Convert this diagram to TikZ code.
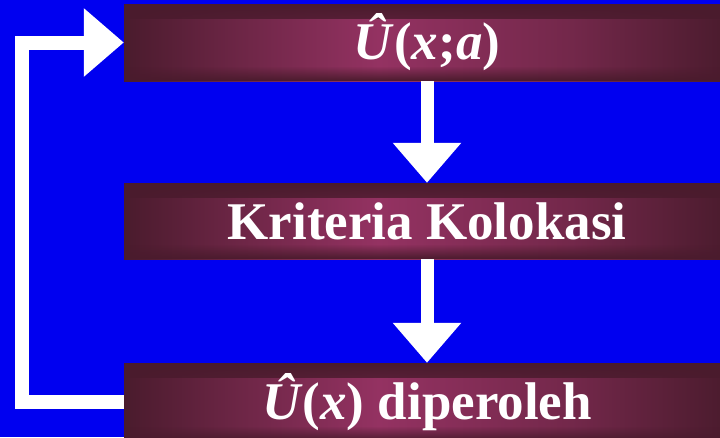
\documentclass[tikz,border=0pt]{standalone}
\usepackage{fontspec}
\setmainfont{Liberation Serif}
\usepackage{tikz}
\usetikzlibrary{arrows.meta,fadings}
\definecolor{slideblue}{RGB}{0,0,240}
\definecolor{bardark}{RGB}{74,27,45}
\definecolor{barlight}{RGB}{148,50,98}
\pgfdeclarehorizontalshading{barshade}{100bp}{color(0bp)=(bardark); color(25bp)=(bardark); color(33bp)=(bardark!60!barlight); color(46bp)=(barlight); color(62bp)=(bardark!45!barlight); color(75bp)=(bardark); color(100bp)=(bardark)}

\begin{document}
\begin{tikzpicture}[x=1pt,y=-1pt,
    bar/.style={shading=barshade, minimum width=606pt, inner sep=0pt, text=white,
      font=\fontsize{53}{60}\selectfont\bfseries,
      path picture={
        \fill[bardark, path fading=south] (path picture bounding box.north west) rectangle ([yshift=-15pt]path picture bounding box.north east);
        \fill[bardark, path fading=north] (path picture bounding box.south west) rectangle ([yshift=15pt]path picture bounding box.south east);}},
    flow/.style={white, line width=13pt, -{Triangle[length=40pt,width=66pt]}}]
        \useasboundingbox (0,0) rectangle (720,437);
        \clip (0,0) rectangle (720,437);
        \fill[slideblue] (0,0) rectangle (720,437);
        % three stages of the collocation loop
        \node[bar, minimum height=77pt] (guess) at (427,42.5) {\textit{Û}(\textit{x};\textit{a})};
        \node[bar, minimum height=76pt] (kriteria) at (427,221) {Kriteria Kolokasi};
        \node[bar, minimum height=78pt] (hasil) at (427,402) {\textit{Û}(\textit{x}) diperoleh};

        \draw[flow] (guess) -- (kriteria);
        \draw[flow] (kriteria) -- (hasil);
        \draw[flow, line width=14pt, line join=miter] (hasil.west) -- ++(-102,0) |- (guess.west);
    \end{tikzpicture}
\end{document}
